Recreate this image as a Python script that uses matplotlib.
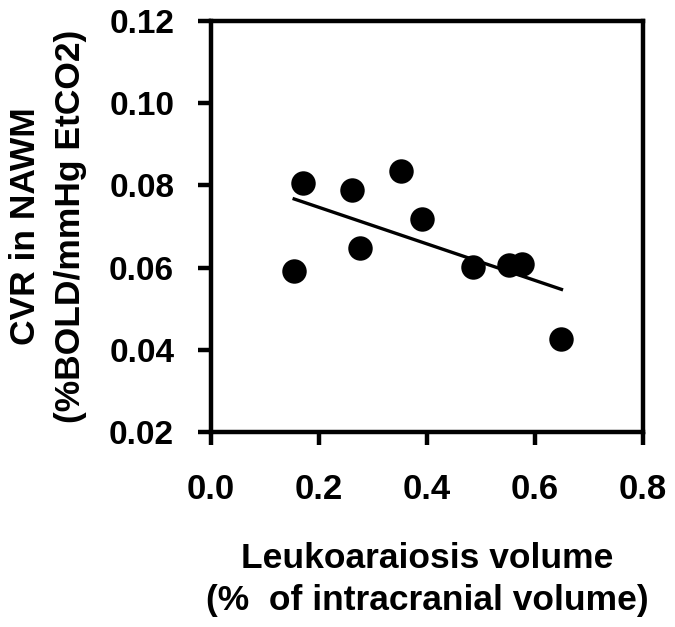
import matplotlib
matplotlib.use("Agg")
import matplotlib.pyplot as plt

plt.rcParams['font.family'] = ['Liberation Sans', 'DejaVu Sans']
plt.rcParams['font.weight'] = 'bold'

leuko_volume = [0.154, 0.171, 0.262, 0.276, 0.352, 0.390, 0.486, 0.551, 0.575, 0.648]
cvr_nawm = [0.0592, 0.0807, 0.0790, 0.0647, 0.0835, 0.0718, 0.0602, 0.0606, 0.0609, 0.0426]
trend_x = [0.154, 0.649]
trend_y = [0.0767, 0.0547]
x_ticks = [0.0, 0.2, 0.4, 0.6, 0.8]
y_ticks = [0.02, 0.04, 0.06, 0.08, 0.10, 0.12]

fig = plt.figure(figsize=(6.75, 6.27), dpi=100)
ax = fig.add_axes([0.3126, 0.311, 0.9526 - 0.3126, 0.9665 - 0.311])

ax.plot(trend_x, trend_y, color='black', lw=2.4, zorder=2)
ax.scatter(leuko_volume, cvr_nawm, s=310, color='black', zorder=3, linewidths=0)

ax.set_xlim(0, 0.8)
ax.set_ylim(0.02, 0.12)
ax.set_xticks(x_ticks)
ax.set_yticks(y_ticks)
ax.set_xticklabels([f"{v:.1f}" for v in x_ticks])
ax.set_yticklabels([f"{v:.2f}" for v in y_ticks])

for s in ax.spines.values():
    s.set_linewidth(3.2)
ax.tick_params(direction='out', length=9.5, width=3.2)
ax.tick_params(axis='y', pad=17, labelsize=24)
ax.tick_params(axis='x', pad=20, labelsize=25)

ax.set_xlabel("Leukoaraiosis volume\n(%  of intracranial volume)", fontsize=25.5,
              fontweight='bold', labelpad=26, linespacing=1.35)
ax.set_ylabel("CVR in NAWM\n(%BOLD/mmHg EtCO2)", fontsize=25.5,
              fontweight='bold', labelpad=16, linespacing=1.45)

fig.savefig("out.png", dpi=100)
